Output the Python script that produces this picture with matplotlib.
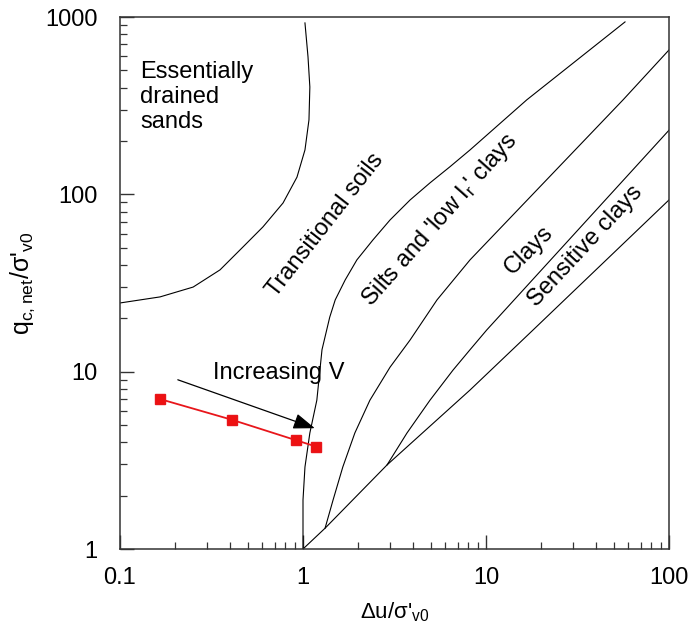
import matplotlib
matplotlib.use('Agg')
import matplotlib.pyplot as plt
from matplotlib.ticker import FixedLocator, FixedFormatter, LogLocator, NullFormatter

plt.rcParams['font.family'] = ['Liberation Sans', 'DejaVu Sans']
plt.rcParams['mathtext.default'] = 'regular'

# boundary curves (du/s'v0, qnet/s'v0)
sands_x = [0.1, 0.1655, 0.251, 0.352, 0.470, 0.604, 0.778, 0.927, 1.025, 1.078, 1.09, 1.065, 1.025]
sands_y = [24.4, 26.4, 30.0, 37.5, 50.5, 65.5, 89.4, 125, 178, 263, 403, 596, 926]

trans_x = [1.0, 1.0, 1.0, 1.025, 1.09, 1.19, 1.27, 1.40, 1.50, 1.70, 1.97, 2.41, 2.99,
           3.85, 4.94, 6.35, 8.18, 16.7, 57.5]
trans_y = [1.0, 1.23, 1.89, 2.9, 4.51, 6.9, 13.3, 20.3, 25.4, 32.9, 42.7, 55.3, 71.7,
           93, 116, 143, 178, 341, 938]

silts_x = [1.32, 1.46, 1.65, 1.92, 2.32, 2.99, 3.85, 5.40, 8.18, 56.1, 100]
silts_y = [1.31, 1.89, 2.9, 4.51, 6.9, 10.6, 15.1, 25.4, 42.7, 341, 652]

clays_x = [2.88, 3.70, 4.94, 6.60, 8.18, 10.1, 100]
clays_y = [2.98, 4.51, 6.9, 10.2, 13.3, 17.2, 230]

base_x = [1, 1.32, 2.88, 8.18, 18.1, 100]
base_y = [1, 1.31, 2.98, 7.88, 17.2, 93]

# measured points
meas_x = [0.166, 0.41, 0.92, 1.18]
meas_y = [7.0, 5.35, 4.1, 3.78]

fig = plt.figure(figsize=(6.9, 6.32), dpi=100)
ax = fig.add_axes([120/690, 1-549/632, 549/690, 532/632])
ax.set_xscale('log')
ax.set_yscale('log')
ax.set_xlim(0.1, 100)
ax.set_ylim(1, 1000)

for cx, cy in [(sands_x, sands_y), (trans_x, trans_y), (silts_x, silts_y),
               (clays_x, clays_y), (base_x, base_y)]:
    ax.plot(cx, cy, color='black', lw=0.8, solid_joinstyle='round')

ax.plot(meas_x, meas_y, color='#e8161b', lw=1.3, marker='s', ms=7,
        markerfacecolor='#ee1111', markeredgecolor='#e8161b')

ax.annotate('', xy=(1.16, 4.8), xytext=(0.207, 9.0),
            arrowprops=dict(arrowstyle='-|>,head_length=0.6,head_width=0.22',
                            color='black', lw=0.9, mutation_scale=22,
                            shrinkA=0, shrinkB=0))

fs = 17
ax.text(0.322, 9.8, 'Increasing V', fontsize=fs, ha='left', va='center')
ax.text(0.129, 354, 'Essentially\ndrained\nsands', fontsize=fs, ha='left',
        va='center', linespacing=1.2)
ax.text(1.32, 67, 'Transitional soils', fontsize=fs, rotation=52,
        ha='center', va='center', rotation_mode='anchor')
ax.text(5.61, 71.7, "Silts and 'low I$_{r}$' clays", fontsize=fs, rotation=48.5,
        ha='center', va='center', rotation_mode='anchor')
ax.text(17.2, 48.6, 'Clays', fontsize=fs, rotation=45,
        ha='center', va='center', rotation_mode='anchor')
ax.text(34.8, 51.2, 'Sensitive clays', fontsize=fs, rotation=47,
        ha='center', va='center', rotation_mode='anchor')

ax.xaxis.set_major_locator(FixedLocator([0.1, 1, 10, 100]))
ax.xaxis.set_major_formatter(FixedFormatter(['0.1', '1', '10', '100']))
ax.yaxis.set_major_locator(FixedLocator([1, 10, 100, 1000]))
ax.yaxis.set_major_formatter(FixedFormatter(['1', '10', '100', '1000']))
for a in (ax.xaxis, ax.yaxis):
    a.set_minor_locator(LogLocator(base=10, subs=range(2, 10)))
    a.set_minor_formatter(NullFormatter())

ax.tick_params(which='both', direction='in', top=False, right=False,
               colors='#333333', labelcolor='black', labelsize=17)
ax.tick_params(axis='x', pad=13)
ax.tick_params(axis='y', pad=16)
ax.tick_params(which='major', length=10, width=1.0)
ax.tick_params(which='minor', length=5, width=0.9)
for s in ax.spines.values():
    s.set_color('#333333')
    s.set_linewidth(1.1)

ax.set_xlabel("Δu/σ'$_{v0}$", fontsize=16, labelpad=8)
ax.set_ylabel("q$_{c,net}$/σ'$_{v0}$", fontsize=18, labelpad=6)

fig.savefig('out.png', dpi=100)
